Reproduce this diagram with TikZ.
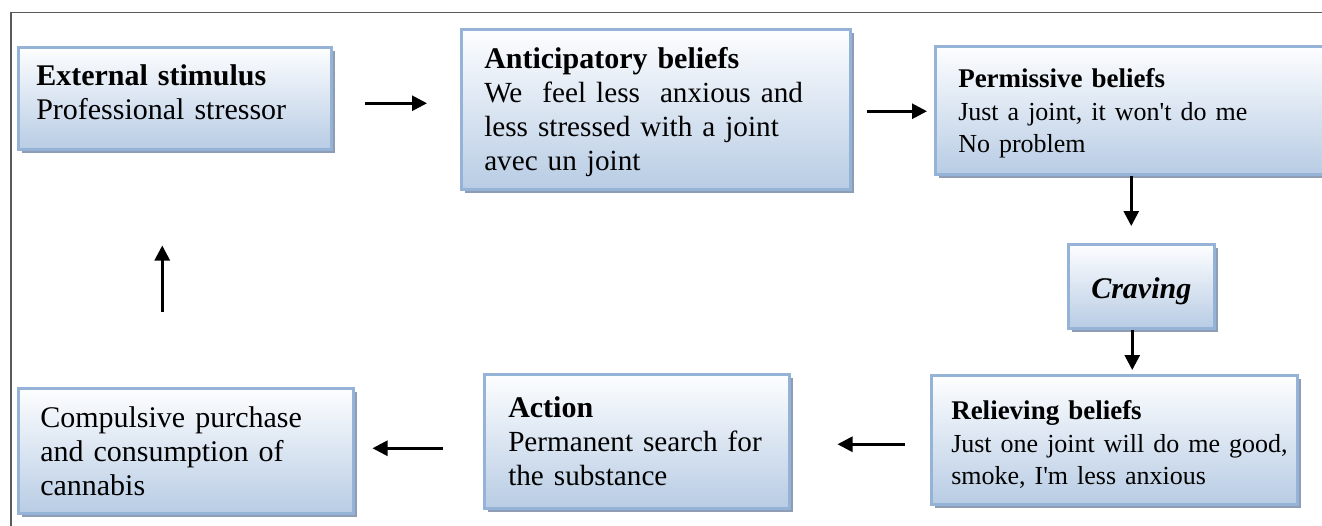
\documentclass[tikz,border=0pt]{standalone}
\usepackage{fontspec}
\setmainfont{Liberation Serif}
\usetikzlibrary{arrows.meta,shadows,calc}
\definecolor{boxborder}{HTML}{95B3D7}
\definecolor{boxbot}{HTML}{B8CCE4}
\definecolor{boxtop}{HTML}{FDFEFF}
\definecolor{shadowc}{HTML}{8E9DB3}
\definecolor{framec}{HTML}{5A5A5A}
\newcommand\smallbody{\fontsize{26}{32.5}\selectfont}
\newcommand\bigbody{\fontsize{29.2}{34}\selectfont}
\begin{document}
\begin{tikzpicture}[x=1pt,y=-1pt,
  box/.style={draw=boxborder, line width=2.5pt, top color=boxtop, bottom color=boxbot,
    anchor=north west, align=left, inner ysep=0pt, inner xsep=3pt,
    drop shadow={shadow xshift=3.5pt, shadow yshift=-3.5pt, fill=shadowc, opacity=1}},
  arr/.style={line width=2.8pt, -{Triangle[length=15pt,width=15pt]}},
  fbig/.style={font=\fontsize{30}{34}\selectfont},
  fsmall/.style={font=\fontsize{27}{32.5}\selectfont}]
\useasboundingbox (0,0) rectangle (1322,525);
\clip (0,0) rectangle (1322,525);
\fill[white] (0,0) rectangle (1322,525);
\draw[framec, line width=1.5pt] (11,12.5) rectangle (1340,540);

\node[box, fbig, minimum width=313pt, minimum height=102pt, text width=307pt] (ext) at (17,46)
  {\leftskip=15pt\relax\textbf{External stimulus}\\Professional stressor\rule[-12pt]{0pt}{12pt}\par};
\node[box, fbig, minimum width=389pt, minimum height=160pt, text width=383pt] (ant) at (460,28)
  {\leftskip=20pt\relax\rule{0pt}{27pt}\textbf{Anticipatory beliefs}\\\bigbody\mbox{We\ \ feel less\ \ anxious and}\\less stressed with a joint\\avec un joint\par};
\node[box, fsmall, minimum width=392pt, minimum height=128pt, text width=386pt] (perm) at (934,45)
  {\leftskip=20pt\relax\rule{0pt}{26pt}\textbf{Permissive beliefs}\\\smallbody Just a joint, it won\textquotesingle t do me\\No problem\par};
\node[box, fbig, align=center, minimum width=146pt, minimum height=84pt, text width=126pt, inner xsep=10pt] (crav) at (1067,243)
  {\rule{0pt}{30pt}\textbf{\textit{Craving}}\par};
\node[box, fsmall, minimum width=366pt, minimum height=129pt, text width=360pt] (rel) at (930,374)
  {\leftskip=17pt\relax\rule{0pt}{29pt}\textbf{Relieving beliefs}\\\smallbody\mbox{Just one joint will do me good,}\\smoke, I\textquotesingle m less anxious\par};
\node[box, fbig, minimum width=305pt, minimum height=134pt, text width=299pt] (act) at (483,373)
  {\leftskip=21pt\relax\textbf{Action}\\\bigbody\mbox{Permanent search for}\\the substance\par};
\node[box, fbig, minimum width=335pt, minimum height=125pt, text width=329pt] (comp) at (17,387)
  {\leftskip=19pt\relax Compulsive purchase\\and consumption of\\cannabis\par};

\coordinate (a12) at ([yshift=-5pt]ext.east);
\coordinate (a23) at ([yshift=-2pt]ant.east);
\coordinate (a45) at ([xshift=-9pt]crav.south);
\coordinate (a57) at ([yshift=-4.5pt]rel.west);
\coordinate (a76) at ([yshift=-7pt]act.west);
\coordinate (a61) at ([xshift=-23.5pt]comp.north);

\draw[arr, shorten <=32pt, shorten >=33pt] (a12) -- (a12 -| ant.west);
\draw[arr, shorten <=15pt, shorten >=7pt] (a23) -- (a23 -| perm.west);
\draw[arr, shorten >=17pt] (perm.south) -- (perm.south |- crav.north);
\draw[arr, shorten >=4pt] (a45) -- (a45 |- rel.north);
\draw[arr, shorten <=25pt, shorten >=47pt] (a57) -- (a57 -| act.east);
\draw[arr, shorten <=40pt, shorten >=18pt] (a76) -- (a76 -| comp.east);
\draw[arr, shorten <=75pt, shorten >=95pt] (a61) -- (a61 |- ext.south);
\end{tikzpicture}
\end{document}
